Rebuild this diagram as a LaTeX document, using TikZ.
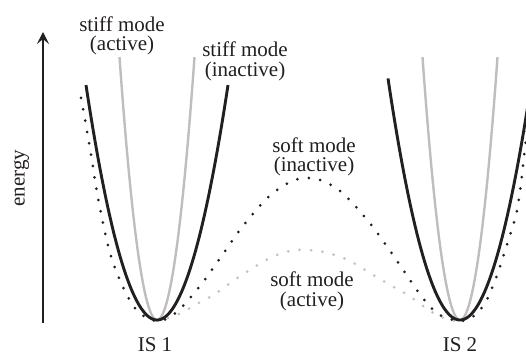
\documentclass[tikz,border=0pt]{standalone}
\usepackage{fontspec}
\setmainfont{Liberation Serif}
\usetikzlibrary{arrows.meta}
\definecolor{lgray}{HTML}{BEBEBE}
\definecolor{dgray}{HTML}{C2C2C2}
\definecolor{ink}{HTML}{231F20}
\begin{document}
\begin{tikzpicture}[x=1pt,y=-1pt,
  lab/.style={font=\fontsize{21}{19.5}\selectfont, inner sep=0pt, align=center, text=ink},
  stiffblack/.style={line width=2.9pt, ink},
  stiffgray/.style={line width=2.4pt, lgray},
  softdots/.style={line width=3pt, line cap=round, dash pattern=on 0pt off 11.5pt},
  axisline/.style={line width=2.6pt, ink, -{Stealth[length=12pt,width=12pt,inset=5pt]}},
]
\useasboundingbox (0,0) rectangle (526,355);
\clip (0,0) rectangle (526,355);

% energy axis
\coordinate (abot) at (43,323);
\coordinate (atop) at (43,32);
\draw[axisline] (abot) -- (atop);
\node[lab, rotate=90, anchor=base] (energy) at (24.5,178) {energy};

% soft mode (active), gray dotted
\draw[softdots, dgray] plot[smooth, tension=0.6] coordinates {
 (157,321) (177,315) (197,304) (215,294) (233,281) (253,268) (272,257)
 (290,251) (307,250) (328,253) (350,261) (370,273) (390,285) (408,295)
 (423,306) (437,315) (450,320) (460,321)};

% stiff mode (active), gray parabolas
\draw[stiffgray] plot[domain=119.5:194.5, samples=60] (\x, {320-0.187*(\x-157)*(\x-157)});
\draw[stiffgray] plot[domain=422.5:497.5, samples=60] (\x, {320-0.187*(\x-460)*(\x-460)});

% soft mode (inactive), black dotted
\draw[softdots, ink] plot[smooth, tension=0.6] coordinates {
 (81,98) (90,148) (98,198) (110,253) (123,287) (135,308) (147,318) (157,321)
 (168,318) (182,307) (203,282) (223,254) (243,226) (273,193) (304,178)
 (336,188) (368,221) (395,258) (422,297) (437,313) (450,319) (460,321)
 (471,318) (485,303) (497,275) (510,235) (518,205) (525,148) (530,100)};

% stiff mode (inactive), black parabolas
\draw[stiffblack] plot[domain=86:228, samples=80] (\x, {320-0.0466*(\x-157)*(\x-157)});
\draw[stiffblack] plot[domain=388:532, samples=80] (\x, {320-0.0466*(\x-460)*(\x-460)});

% labels
\node[lab, anchor=north] (sa) at (122,16.5) {stiff mode\\(active)};
\node[lab, anchor=north] (si) at (245,42) {stiff mode\\(inactive)};
\node[lab, anchor=north] (so) at (314,137.5) {soft mode\\(inactive)};
\node[lab, anchor=north] (sc) at (312,272) {soft mode\\(active)};
\node[lab, anchor=base] (is1) at (155,351.5) {IS 1};
\node[lab, anchor=base] (is2) at (460,351.5) {IS 2};
\end{tikzpicture}
\end{document}
